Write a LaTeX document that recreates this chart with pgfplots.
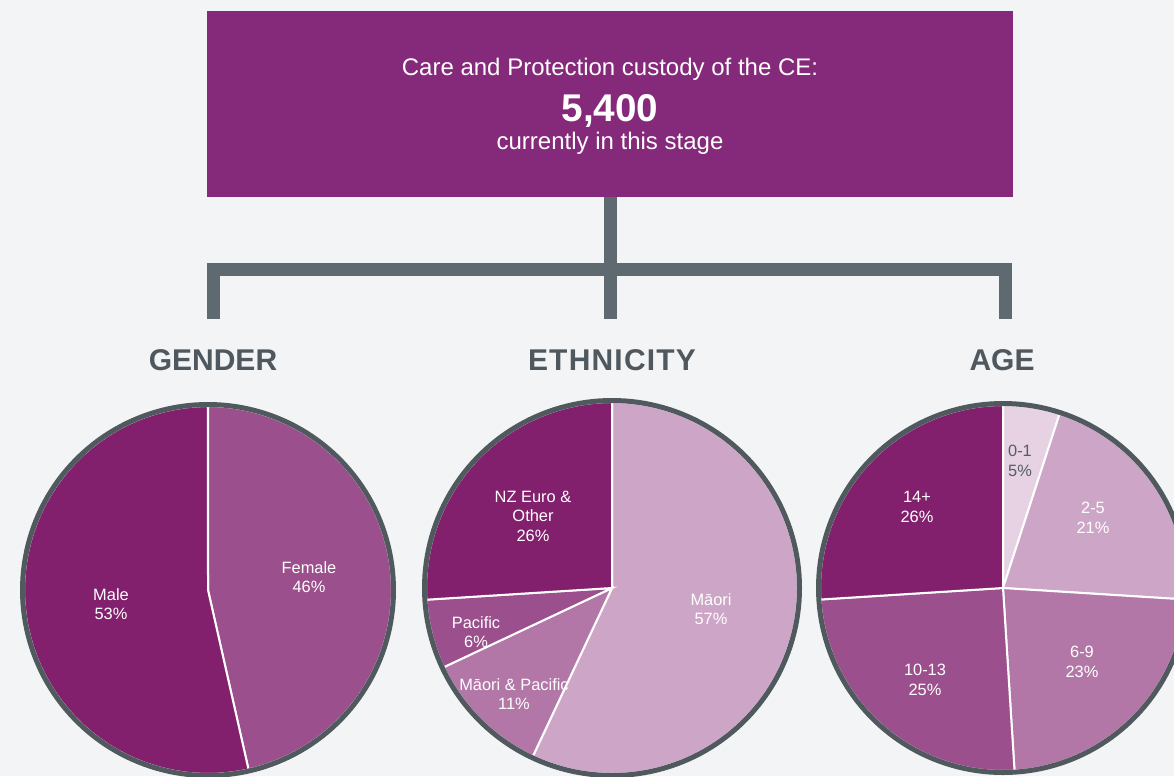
\documentclass[border=0pt]{standalone}
\usepackage{fontspec}
\setmainfont{Liberation Sans}
\usepackage{pgfplots}
\usepackage{pgfplotstable}
\pgfplotsset{compat=1.18}

\definecolor{bg}{HTML}{F3F4F6}
\definecolor{ttl}{HTML}{85297A}
\definecolor{conn}{HTML}{5E6A70}
\definecolor{hd}{HTML}{4F585E}
\definecolor{bord}{HTML}{50595E}
\definecolor{cA}{HTML}{82206E}
\definecolor{cB}{HTML}{9B4F8C}
\definecolor{cC}{HTML}{B377A7}
\definecolor{cD}{HTML}{CDA6C7}
\definecolor{cE}{HTML}{E6D2E3}
\definecolor{dk}{HTML}{555E63}

\tikzset{lbl/.style={align=center, font=\fontsize{12.3}{14.6}\selectfont, inner sep=0pt}}

% slices clockwise from 12 o'clock; lx, ly = label position (pixels, y down)
\pgfplotstableread{
name pct col tc lx ly
Female 46 cB white 309 577
Male 53 cA white 111 604
}\gender
\pgfplotstableread{
name pct col tc lx ly
Māori 57 cD white 711 609
{Māori \& Pacific} 11 cC white 514 694
Pacific 6 cB white 476 632
{NZ Euro \&\\Other} 26 cA white 533 516
}\ethnic
\pgfplotstableread{
name pct col tc lx ly
0-1 5 cE dk 1020 461
2-5 21 cD white 1093 518
6-9 23 cC white 1082 662
10-13 25 cB white 925 680
14+ 26 cA white 917 507
}\agetab

% #1 table, #2 cx, #3 cy, #4 radius
\newcommand{\drawpie}[4]{%
  \pgfplotstablegetrowsof{#1}%
  \pgfmathtruncatemacro\nlast{\pgfplotsretval-1}%
  \def\total{0}%
  \pgfplotsforeachungrouped \i in {0,...,\nlast}{%
    \pgfplotstablegetelem{\i}{pct}\of{#1}%
    \pgfmathsetmacro\total{\total+\pgfplotsretval}}%
  \def\cum{0}%
  \pgfplotsforeachungrouped \i in {0,...,\nlast}{%
    \pgfplotstablegetelem{\i}{pct}\of{#1}\let\pv\pgfplotsretval
    \pgfplotstablegetelem{\i}{col}\of{#1}\let\slcol\pgfplotsretval
    \pgfmathsetmacro\angA{\cum/\total*360}%
    \pgfmathsetmacro\cum{\cum+\pv}%
    \pgfmathsetmacro\angB{\cum/\total*360}%
    \edef\temp{\noexpand\addplot[draw=white, line width=1.5pt, fill=\slcol,
        domain=\angA:\angB, samples=60]
        ({#2+#4*sin(x)},{#3-#4*cos(x)}) -- (axis cs:#2,#3) -- cycle;}%
    \temp}%
  \addplot[draw=bord, line width=3.75pt, domain=0:360, samples=181]
    ({#2+(#4+1.5)*sin(x)},{#3-(#4+1.5)*cos(x)});
  \pgfplotsforeachungrouped \i in {0,...,\nlast}{%
    \pgfplotstablegetelem{\i}{pct}\of{#1}\let\pv\pgfplotsretval
    \pgfplotstablegetelem{\i}{name}\of{#1}\let\nm\pgfplotsretval
    \pgfplotstablegetelem{\i}{tc}\of{#1}\let\tcol\pgfplotsretval
    \pgfplotstablegetelem{\i}{lx}\of{#1}\let\lx\pgfplotsretval
    \pgfplotstablegetelem{\i}{ly}\of{#1}\let\ly\pgfplotsretval
    \edef\temp{\noexpand\node[lbl, text=\tcol] at (axis cs:\lx,\ly)
      {\unexpanded\expandafter{\nm}\noexpand\\\pv\noexpand\%};}%
    \temp}%
}

\begin{document}
\begin{tikzpicture}
\fill[bg] (0,0) rectangle (880.5pt,582pt);
\begin{axis}[
  at={(0,0)}, anchor=south west,
  scale only axis,
  width=880.5pt, height=582pt,
  xmin=0, xmax=1174, ymin=0, ymax=776,
  y dir=reverse,
  hide axis,
  clip=true,
]
% title box and connectors
\fill[ttl] (axis cs:207,11) rectangle (axis cs:1013,197);
\draw[conn, line width=9.75pt, line join=miter]
  (axis cs:213.5,319) -- (axis cs:213.5,269) -- (axis cs:1005,269) -- (axis cs:1005,319);
\draw[conn, line width=9.75pt] (axis cs:610,197) -- (axis cs:610,319);
\node[anchor=base, text=white, font=\fontsize{18}{20}\selectfont]
  at (axis cs:610,75) {Care and Protection custody of the CE:};
\node[anchor=base, text=white, font=\fontsize{29}{31}\selectfont\bfseries]
  at (axis cs:610,121) {5,400};
\node[anchor=base, text=white, font=\fontsize{18}{20}\selectfont]
  at (axis cs:610,149) {currently in this stage};
% headings
\node[anchor=base, text=hd, font=\fontsize{22.5}{24}\selectfont\bfseries]
  at (axis cs:213,370) {GENDER};
\node[anchor=base, text=hd, font=\fontsize{22.5}{24}\selectfont\bfseries]
  at (axis cs:612,370) {\addfontfeature{LetterSpace=4}ETHNICITY};
\node[anchor=base, text=hd, font=\fontsize{22.5}{24}\selectfont\bfseries]
  at (axis cs:1002,370) {AGE};
% pies
\drawpie{\gender}{208}{590}{184}
\drawpie{\ethnic}{612}{588}{186}
\drawpie{\agetab}{1003}{588}{183}
\end{axis}
\end{tikzpicture}
\end{document}
